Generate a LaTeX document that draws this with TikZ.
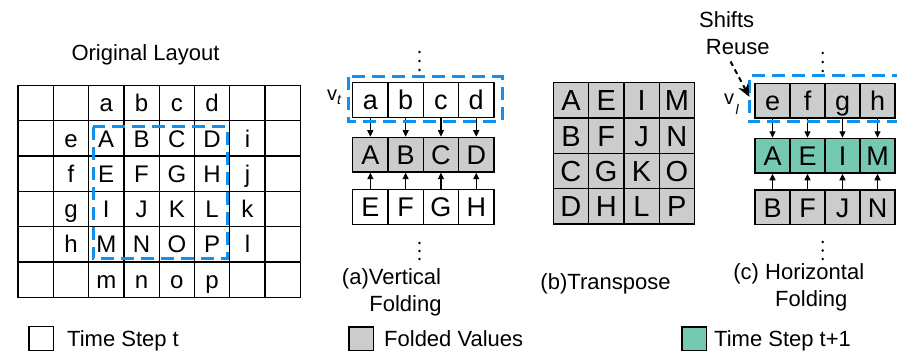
\documentclass[tikz,border=0pt]{standalone}
\usepackage{fontspec}
\setmainfont{Liberation Sans}
\usetikzlibrary{arrows.meta}
\definecolor{foldgray}{RGB}{204,204,204}
\definecolor{stepgreen}{RGB}{116,201,176}
\definecolor{selblue}{RGB}{16,145,240}
\newcommand\myfs[1]{\fontsize{#1}{#1}\selectfont}
\begin{document}
\begin{tikzpicture}[x=1pt,y=-1pt,
  cellbase/.style={draw=black, line width=1.3pt, inner sep=0pt, anchor=center, text depth=0pt},
  gcell/.style={cellbase, minimum width=35.3pt, minimum height=35.3pt, font=\myfs{24}, text height=17.2pt},
  pcell/.style={cellbase, minimum width=35.3pt, minimum height=34.7pt, font=\myfs{27}, text height=19.3pt},
  tcell/.style={cellbase, minimum width=35.3pt, minimum height=35.3pt, fill=foldgray, font=\myfs{29}, text height=20.8pt},
  lbl/.style={inner sep=0pt, text height=15.75pt, text depth=0pt, font=\myfs{22}},
  selbox/.style={draw=selblue, line width=3pt, dash pattern=on 13pt off 7pt},
  farrow/.style={-{Triangle[length=6.5pt,width=6pt]}, line width=1.1pt},
  reusearrow/.style={line width=2pt, dash pattern=on 5pt off 4pt, -{Stealth[length=13pt,width=11pt]}},
  legbox/.style={draw=black, line width=1.2pt, minimum width=24.5pt, minimum height=23.5pt, inner sep=0pt},
  vlabel/.style={anchor=base west, inner sep=0pt, font=\myfs{20}},
]
\useasboundingbox (0,0) rectangle (897,352);
\clip (0,0) rectangle (897,352);

% ---------- Original layout ----------
\node[lbl] (title) at (145.5,52.8) {Original Layout};
\foreach \rowlist [count=\r from 0] in {{{},{},a,b,c,d,{},{}},{{},e,A,B,C,D,i,{}},{{},f,E,F,G,H,j,{}},{{},g,I,J,K,L,k,{}},{{},h,M,N,O,P,l,{}},{{},{},m,n,o,p,{},{}}}{
  \foreach \t [count=\c from 0] in \rowlist {
    \node[gcell] (g-\r-\c) at ({18+35.3*(\c+0.5)},{85.5+35.3*(\r+0.5)}) {\t};
  }
}
\draw[selbox] (93,127) rectangle (227,259);

% ---------- (a) Vertical folding ----------
\foreach \t [count=\c from 0] in {a,b,c,d}
  \node[pcell] (va-\c) at ({352.7+35.3*(\c+0.5)},100) {\t};
\foreach \t [count=\c from 0] in {A,B,C,D}
  \node[pcell, fill=foldgray] (vb-\c) at ({352.7+35.3*(\c+0.5)},154.7) {\t};
\foreach \t [count=\c from 0] in {E,F,G,H}
  \node[pcell] (vc-\c) at ({352.7+35.3*(\c+0.5)},207.2) {\t};
\foreach \c in {0,...,3}{
  \draw[farrow] (va-\c) -- (vb-\c);
  \draw[farrow] (vc-\c) -- (vb-\c);
}
\draw[selbox] (348,77) rectangle (502,121.7);
\foreach \y in {52,61,70,243,251,259} \fill (419.5,\y) circle (1.3);
\node[vlabel] (vt) at (327,100.7) {v\raisebox{-4.3pt}{\myfs{14}\itshape t}};
\node[lbl] (capa1) at (391.5,276.7) {(a)Vertical};
\node[lbl] (capa2) at (405.5,303.3) {Folding};

% ---------- (b) Transpose ----------
\foreach \rowlist [count=\r from 0] in {{A,E,I,M},{B,F,J,N},{C,G,K,O},{D,H,L,P}}{
  \foreach \t [count=\c from 0] in \rowlist {
    \node[tcell] (t-\r-\c) at ({553.3+35.3*(\c+0.5)},{82.7+35.3*(\r+0.5)}) {\t};
  }
}
\node[lbl] (capb) at (605.5,281.7) {(b)Transpose};

% ---------- (c) Horizontal folding ----------
\foreach \t [count=\c from 0] in {e,f,g,h}
  \node[pcell, minimum width=35pt, fill=foldgray] (ha-\c) at ({755+35*(\c+0.5)},100.8) {\t};
\foreach \t [count=\c from 0] in {A,E,I,M}
  \node[pcell, minimum width=35pt, fill=stepgreen] (hb-\c) at ({755+35*(\c+0.5)},155.8) {\t};
\foreach \t [count=\c from 0] in {B,F,J,N}
  \node[pcell, minimum width=35pt, fill=foldgray] (hc-\c) at ({755+35*(\c+0.5)},207.5) {\t};
\foreach \c in {0,...,3}{
  \draw[farrow] (ha-\c) -- (hb-\c);
  \draw[farrow] (hc-\c) -- (hb-\c);
}
\draw[selbox] (905,76) -- (749,76) -- (749,121.7) -- (905,121.7);
\foreach \y in {53,62,71,242,250.5,259} \fill (822.7,\y) circle (1.3);
\node[vlabel] (vl) at (724,105) {v\kern1.5pt\raisebox{-10pt}{\myfs{14}\itshape l}};
\node[lbl] (shifts) at (726.7,19.2) {Shifts};
\node[lbl] (reuse) at (737.7,46.3) {Reuse};
\coordinate (sr-a) at (730.5,61.5);
\coordinate (sr-b) at (749.5,97);
\draw[reusearrow] (sr-a) -- (sr-b);
\node[lbl] (capc1) at (798.8,271.7) {(c) Horizontal};
\node[lbl] (capc2) at (811.3,298.3) {Folding};

% ---------- Legend ----------
\node[legbox] (leg1) at (41.2,338.5) {};
\node[lbl, anchor=west] (legt1) at (67,338.5) {Time Step t};
\node[legbox, fill=foldgray] (leg2) at (361.3,338.8) {};
\node[lbl, anchor=west] (legt2) at (384,338.8) {Folded Values};
\node[legbox, fill=stepgreen] (leg3) at (694.3,338.8) {};
\node[lbl, anchor=west] (legt3) at (714,338.8) {Time Step t+1};
\end{tikzpicture}
\end{document}
